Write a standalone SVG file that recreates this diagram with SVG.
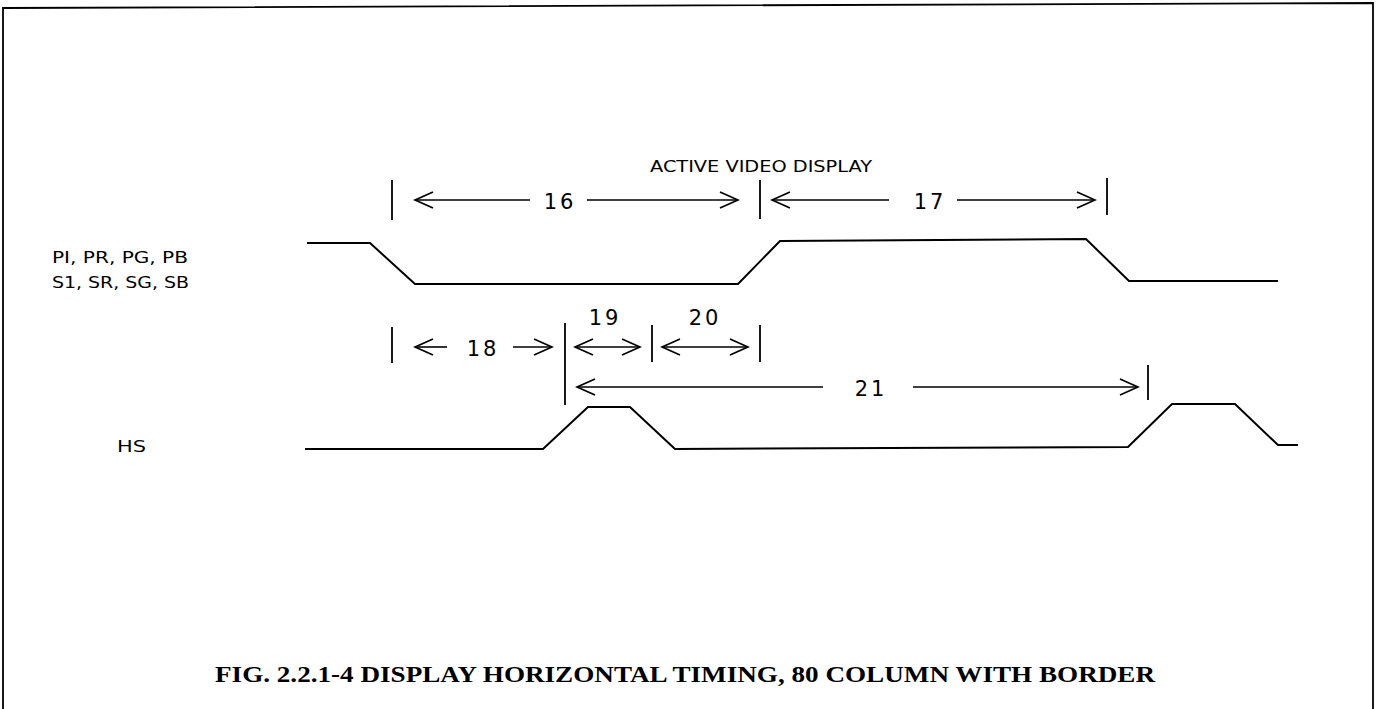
<svg xmlns="http://www.w3.org/2000/svg" width="1377" height="709" viewBox="0 0 1377 709">
<defs>
<marker id="ah" viewBox="-20 -10 22 20" refX="0" refY="0" markerWidth="22" markerHeight="20" markerUnits="userSpaceOnUse" orient="auto-start-reverse">
<path d="M-18,-8 L0,0 L-18,8" fill="none" stroke="#000" stroke-width="1.8"/>
</marker>
</defs>
<style>
.ln{fill:none;stroke:#000;stroke-width:1.8}
.wv{fill:none;stroke:#000;stroke-width:2}
.ar{fill:none;stroke:#000;stroke-width:1.6;marker-end:url(#ah)}
.tk{stroke:#000;stroke-width:1.8}
.pl{font-family:"DejaVu Sans","Liberation Sans",sans-serif;font-weight:normal;fill:#000}
.ti{font-family:"Liberation Serif",serif;font-weight:bold;fill:#000}
</style>
<rect width="1377" height="709" fill="#fff"/>
<g id="frame">
<path class="ln" d="M3,709 L3,8 L1373,3 L1373,709" stroke-width="2.5"/>
</g>
<g id="title"><text class="ti" x="215" y="682" font-size="24" textLength="940" lengthAdjust="spacingAndGlyphs">FIG. 2.2.1-4 DISPLAY HORIZONTAL TIMING, 80 COLUMN WITH BORDER</text></g>
<g id="label-active"><text class="pl" x="650" y="172" font-size="16" textLength="222" lengthAdjust="spacingAndGlyphs">ACTIVE VIDEO DISPLAY</text></g>
<g id="label-p"><text class="pl" x="52" y="263" font-size="16" textLength="136" lengthAdjust="spacingAndGlyphs">PI, PR, PG, PB</text></g>
<g id="label-s"><text class="pl" x="52" y="288" font-size="16" textLength="137" lengthAdjust="spacingAndGlyphs">S1, SR, SG, SB</text></g>
<g id="label-hs"><text class="pl" x="117" y="452" font-size="16" textLength="29" lengthAdjust="spacingAndGlyphs">HS</text></g>
<g id="wave-p"><path class="wv" d="M307,243 L370,243 L415,284 L738,284 L780,241 L1086,239 L1129,281 L1278,281"/></g>
<g id="wave-hs"><path class="wv" d="M305,449 L543,449 L588,407 L630,407 L675,449 L1128,447 L1172,404 L1235,404 L1278,445 L1298,445"/></g>
<g id="dim16"><text class="pl" x="560" y="209" font-size="21" text-anchor="middle" letter-spacing="3">16</text></g>
<g id="dim17"><text class="pl" x="930" y="209" font-size="21" text-anchor="middle" letter-spacing="3">17</text></g>
<g id="dim18"><text class="pl" x="483" y="356" font-size="21" text-anchor="middle" letter-spacing="3">18</text></g>
<g id="dim19"><text class="pl" x="605" y="325" font-size="21" text-anchor="middle" letter-spacing="3">19</text></g>
<g id="dim20"><text class="pl" x="705" y="325" font-size="21" text-anchor="middle" letter-spacing="3">20</text></g>
<g id="dim21"><text class="pl" x="871" y="396" font-size="21" text-anchor="middle" letter-spacing="3">21</text></g>
<g id="connectors">
<line class="tk" x1="392" y1="180" x2="392" y2="220"/>
<line class="tk" x1="760" y1="180" x2="760" y2="219"/>
<line class="tk" x1="1107" y1="178" x2="1107" y2="215"/>
<line class="ar" x1="530" y1="200" x2="415" y2="200"/>
<line class="ar" x1="587" y1="200" x2="738" y2="200"/>
<line class="ar" x1="889" y1="200" x2="772" y2="200"/>
<line class="ar" x1="957" y1="200" x2="1095" y2="200"/>
<line class="tk" x1="392" y1="327" x2="392" y2="363"/>
<line class="tk" x1="565" y1="323" x2="565" y2="405"/>
<line class="tk" x1="652" y1="325" x2="652" y2="362"/>
<line class="tk" x1="760" y1="325" x2="760" y2="362"/>
<line class="tk" x1="1148" y1="365" x2="1148" y2="400"/>
<line class="ar" x1="447" y1="347" x2="415" y2="347"/>
<line class="ar" x1="513" y1="347" x2="552" y2="347"/>
<line class="ar" x1="575" y1="347" x2="640" y2="347" style="marker-start:url(#ah)"/>
<line class="ar" x1="662" y1="347" x2="748" y2="347" style="marker-start:url(#ah)"/>
<line class="ar" x1="823" y1="387" x2="577" y2="387"/>
<line class="ar" x1="913" y1="387" x2="1138" y2="387"/>
</g>
</svg>
